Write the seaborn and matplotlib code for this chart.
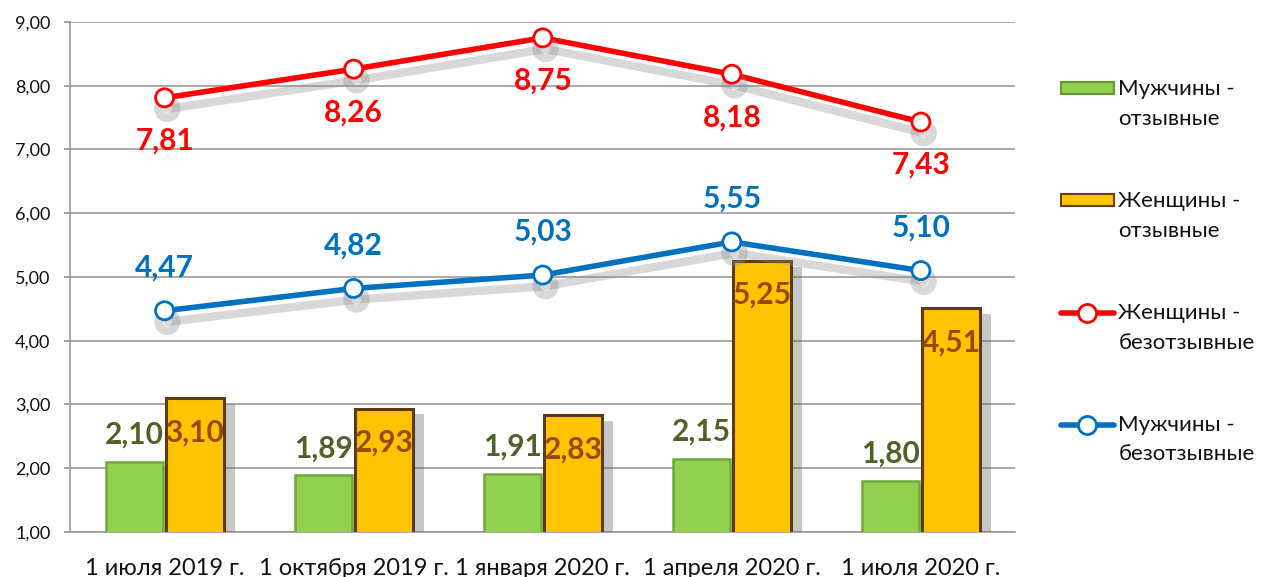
import matplotlib
matplotlib.use("Agg")
import matplotlib.pyplot as plt
import matplotlib.patheffects as pe
from matplotlib.lines import Line2D
from matplotlib.patches import Patch
from matplotlib.legend_handler import HandlerLine2D, HandlerPatch
import seaborn as sns
import pandas as pd
import numpy as np

categories = ["1 июля 2019 г.", "1 октября 2019 г.", "1 января 2020 г.", "1 апреля 2020 г.", "1 июля 2020 г."]
men_resp = [2.10, 1.89, 1.91, 2.15, 1.80]
women_resp = [3.10, 2.93, 2.83, 5.25, 4.51]
women_nonresp = [7.81, 8.26, 8.75, 8.18, 7.43]
men_nonresp = [4.47, 4.82, 5.03, 5.55, 5.10]
series_names = ["Мужчины -\nотзывные", "Женщины -\nотзывные", "Женщины -\nбезотзывные", "Мужчины -\nбезотзывные"]
yticks = [1, 2, 3, 4, 5, 6, 7, 8, 9]

sns.set_theme(style="white")
plt.rcParams["font.family"] = ["Lato", "DejaVu Sans"]

fig = plt.figure(figsize=(12.69, 5.77), dpi=100)
ax = fig.add_axes([0.0552, 0.078, 0.745, 0.884])

df = pd.DataFrame({
    "cat": categories * 2,
    "val": men_resp + women_resp,
    "ser": [series_names[0]] * 5 + [series_names[1]] * 5,
})
green = "#92D050"
gold = "#FFC400"
sns.barplot(data=df, x="cat", y="val", hue="ser", order=categories,
            hue_order=series_names[:2], palette=[green, gold], saturation=1,
            width=0.64, gap=0.05, ax=ax, legend=False, zorder=3)

edge_cols = ["#6FAA3A", "#5C3A14"]
for i, bar in enumerate(ax.patches[:10]):
    k = i // 5
    bar.set_edgecolor(edge_cols[k])
    bar.set_linewidth(2.2 if k == 1 else 1.8)
    bar.set_path_effects([pe.SimplePatchShadow(offset=(8, -4), shadow_rgbFace="#606060", alpha=0.35), pe.Normal()])

shadow = [pe.SimpleLineShadow(offset=(2, -8), shadow_color="#909090", alpha=0.35, linewidth=6), pe.Normal()]
red = "#FF0000"
blue = "#0070C0"
sns.pointplot(x=categories, y=women_nonresp, color=red, markers="o", errorbar=None,
              ax=ax, linewidth=4, markersize=13, markerfacecolor="white",
              markeredgewidth=2, markeredgecolor=red, zorder=6)
sns.pointplot(x=categories, y=men_nonresp, color=blue, markers="o", errorbar=None,
              ax=ax, linewidth=4, markersize=13, markerfacecolor="white",
              markeredgewidth=2, markeredgecolor=blue, zorder=6)
for ln in ax.lines:
    ln.set_path_effects(shadow)
    ln.set_markeredgecolor(ln.get_color())
    ln.set_markerfacecolor("white")

def fmt(v):
    return f"{v:.2f}".replace(".", ",")

lab_fs = 21.5
for i, v in enumerate(women_nonresp):
    ax.annotate(fmt(v), (i, v), xytext=(0, -43), textcoords="offset pixels",
                ha="center", va="center", color=red, fontsize=lab_fs, fontweight="bold", zorder=8)
for i, v in enumerate(men_nonresp):
    ax.annotate(fmt(v), (i, v), xytext=(0, 43), textcoords="offset pixels",
                ha="center", va="center", color=blue, fontsize=lab_fs, fontweight="bold", zorder=8)
for i, bar in enumerate(ax.patches[:10]):
    k = i // 5
    cx = bar.get_x() + bar.get_width() / 2
    h = bar.get_height()
    if k == 0:
        ax.annotate(fmt(h), (cx, h), xytext=(0, 27), textcoords="offset pixels",
                    ha="center", va="center", color="#4F6228", fontsize=lab_fs, fontweight="bold", zorder=8)
    else:
        ax.annotate(fmt(h), (cx, h), xytext=(0, -34), textcoords="offset pixels",
                    ha="center", va="center", color="#984807", fontsize=lab_fs, fontweight="bold", zorder=8)

ax.set_ylim(1, 9)
ax.set_xlim(-0.5, 4.5)
ax.set_yticks(yticks)
ax.set_yticklabels([fmt(v) for v in yticks])
ax.set_xlabel("")
ax.set_ylabel("")
ax.grid(axis="y", color="#9A9A9A", linewidth=1.2, zorder=0)
ax.set_axisbelow(True)
for s in ["top", "right"]:
    ax.spines[s].set_visible(False)
for s in ["left", "bottom"]:
    ax.spines[s].set_color("#9A9A9A")
    ax.spines[s].set_linewidth(1.2)
ax.tick_params(axis="y", left=True, length=4, color="#9A9A9A", labelsize=13, labelcolor="#111111", pad=10)
ax.tick_params(axis="x", bottom=False, labelsize=17, labelcolor="#111111", pad=13)

LEG_SHIFT = 11.5

class TopLine(HandlerLine2D):
    def create_artists(self, legend, orig_handle, xdescent, ydescent, width, height, fontsize, trans):
        return super().create_artists(legend, orig_handle, xdescent, ydescent - 2 * LEG_SHIFT,
                                      width, height, fontsize, trans)

class TopPatch(HandlerPatch):
    def create_artists(self, legend, orig_handle, xdescent, ydescent, width, height, fontsize, trans):
        return super().create_artists(legend, orig_handle, xdescent, ydescent - LEG_SHIFT,
                                      width, height, fontsize, trans)

handles = [
    Patch(facecolor=green, edgecolor="#5E9A2C", linewidth=1.5),
    Patch(facecolor=gold, edgecolor="#6B3F12", linewidth=1.5),
    Line2D([], [], color=red, linewidth=4, marker="o", markersize=13, markerfacecolor="white", markeredgecolor=red, markeredgewidth=2),
    Line2D([], [], color=blue, linewidth=4, marker="o", markersize=13, markerfacecolor="white", markeredgecolor=blue, markeredgewidth=2),
]
leg = fig.legend(handles, series_names, loc="upper left", bbox_to_anchor=(0.82, 0.897),
                 frameon=False, fontsize=16, labelspacing=2.8, handlelength=2.4,
                 handleheight=0.45, handletextpad=0.2, labelcolor="#111111",
                 handler_map={Line2D: TopLine(), Patch: TopPatch()})
for t in leg.get_texts():
    t.set_linespacing(1.6)

fig.savefig("out.png", dpi=100)
